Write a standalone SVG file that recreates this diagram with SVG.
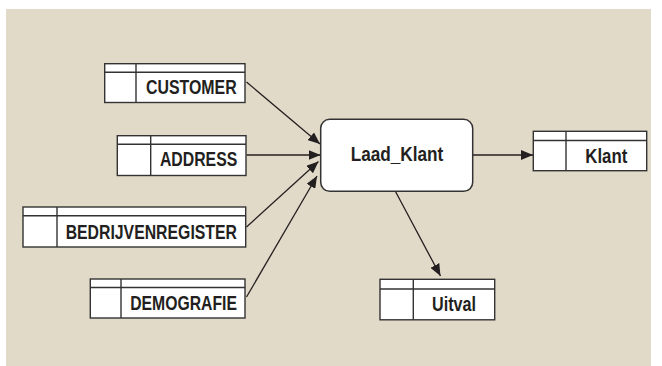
<svg xmlns="http://www.w3.org/2000/svg" width="662" height="366" viewBox="0 0 662 366">
  <style>
    .tbl rect, .tbl line { fill: #ffffff; stroke: #333333; stroke-width: 1.4; }
    .tbl line { fill: none; }
    .proc { fill: #ffffff; stroke: #333333; stroke-width: 1.5; }
    .lbl { font-family: "Liberation Sans Narrow", "Arial Narrow", "Liberation Sans", Arial, sans-serif; font-weight: bold; font-size: 20px; fill: #231f20; text-anchor: middle; }
    .edge { stroke: #231f20; stroke-width: 1.3; fill: none; marker-end: url(#arrow); }
  </style>
  <defs>
    <marker id="arrow" viewBox="0 0 12 10" refX="12" refY="5" markerWidth="12" markerHeight="10" markerUnits="userSpaceOnUse" orient="auto">
      <path d="M0,0 L12,5 L0,10 Z" fill="#231f20"/>
    </marker>
  </defs>

  <!-- backdrop panel -->
  <rect x="6" y="9" width="645" height="357" fill="#e2dac8"/>

  <!-- connectors -->
  <g id="connectors">
    <line class="edge" x1="246.5" y1="82" x2="320" y2="144"/>
    <line class="edge" x1="246.5" y1="155" x2="320.5" y2="155"/>
    <line class="edge" x1="246.5" y1="227" x2="318.5" y2="161.5"/>
    <line class="edge" x1="246.5" y1="297" x2="317" y2="176"/>
    <line class="edge" x1="473" y1="155" x2="533" y2="155"/>
    <line class="edge" x1="395.5" y1="191.5" x2="440.5" y2="276"/>
  </g>

  <!-- source tables -->
  <g id="customer" class="tbl">
    <rect x="104.7" y="63.7" width="140.3" height="38.8"/>
    <line x1="104.7" y1="72.2" x2="245" y2="72.2"/>
    <line x1="136" y1="63.7" x2="136" y2="102.5"/>
    <text class="lbl" x="191.3" y="94.3" textLength="90.7" lengthAdjust="spacingAndGlyphs">CUSTOMER</text>
  </g>

  <g id="address" class="tbl">
    <rect x="117.3" y="135.7" width="128.7" height="39.8"/>
    <line x1="117.3" y1="144.2" x2="246" y2="144.2"/>
    <line x1="150.7" y1="135.7" x2="150.7" y2="175.5"/>
    <text class="lbl" x="198.6" y="165.7" textLength="77.3" lengthAdjust="spacingAndGlyphs">ADDRESS</text>
  </g>

  <g id="bedrijvenregister" class="tbl">
    <rect x="23" y="207" width="222.7" height="40"/>
    <line x1="23" y1="215.7" x2="245.7" y2="215.7"/>
    <line x1="57" y1="207" x2="57" y2="247"/>
    <text class="lbl" x="151.3" y="239" textLength="171.3" lengthAdjust="spacingAndGlyphs">BEDRIJVENREGISTER</text>
  </g>

  <g id="demografie" class="tbl">
    <rect x="90.3" y="279" width="154.7" height="39"/>
    <line x1="90.3" y1="287.5" x2="245" y2="287.5"/>
    <line x1="121" y1="279" x2="121" y2="318"/>
    <text class="lbl" x="183.6" y="310.3" textLength="106.7" lengthAdjust="spacingAndGlyphs">DEMOGRAFIE</text>
  </g>

  <!-- process -->
  <g id="laad_klant">
    <rect class="proc" x="320.7" y="119.3" width="152" height="72" rx="9" ry="9"/>
    <text class="lbl" x="397" y="160.7" textLength="92.6" lengthAdjust="spacingAndGlyphs">Laad_Klant</text>
  </g>

  <!-- target tables -->
  <g id="klant" class="tbl">
    <rect x="533.3" y="131.3" width="113.4" height="39.4"/>
    <line x1="533.3" y1="140.5" x2="646.7" y2="140.5"/>
    <line x1="566" y1="131.3" x2="566" y2="170.7"/>
    <text class="lbl" x="606.3" y="163.3" textLength="42" lengthAdjust="spacingAndGlyphs">Klant</text>
  </g>

  <g id="uitval" class="tbl">
    <rect x="380" y="279.3" width="114.7" height="40.5"/>
    <line x1="380" y1="289" x2="494.7" y2="289"/>
    <line x1="413.3" y1="279.3" x2="413.3" y2="319.8"/>
    <text class="lbl" x="454" y="310.7" textLength="44" lengthAdjust="spacingAndGlyphs">Uitval</text>
  </g>
</svg>
